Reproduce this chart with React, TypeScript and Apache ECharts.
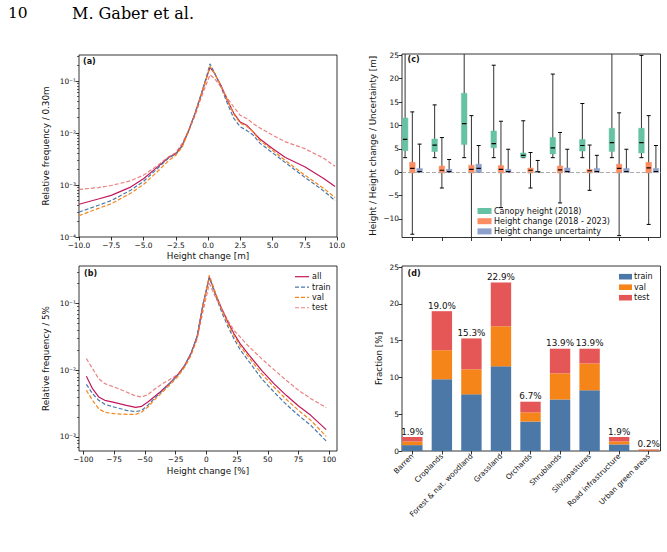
import React, { useEffect, useRef } from "react";
import * as echarts from "echarts";

const FONT = "DejaVu Sans";

// Panel (a): absolute height change [m]; values are log10 of relative frequency per 0.30 m bin
const diffMeters = [-10, -8.5, -7.5, -6, -5, -4, -3, -2.5, -2, -1.5, -1, -0.5, 0, 0.15, 0.5, 1, 1.5, 2, 2.5, 3, 3.5, 4, 5, 6, 7.5, 9, 9.85];
const absAll = [-3.37, -3.27, -3.2, -3.04, -2.88, -2.67, -2.46, -2.4, -2.24, -1.95, -1.62, -1.24, -0.85, -0.74, -0.85, -1.08, -1.37, -1.62, -1.79, -1.85, -1.98, -2.11, -2.3, -2.47, -2.65, -2.88, -3.03];
const absTrain = [-3.52, -3.39, -3.3, -3.1, -2.93, -2.7, -2.47, -2.41, -2.25, -1.96, -1.62, -1.23, -0.82, -0.67, -0.84, -1.11, -1.43, -1.72, -1.88, -1.95, -2.04, -2.19, -2.38, -2.57, -2.85, -3.12, -3.3];
const absVal = [-3.59, -3.45, -3.36, -3.16, -2.99, -2.76, -2.52, -2.43, -2.27, -1.97, -1.64, -1.25, -0.85, -0.72, -0.85, -1.1, -1.37, -1.64, -1.81, -1.87, -1.98, -2.14, -2.33, -2.53, -2.81, -3.07, -3.24];
const absTest = [-3.085, -3.05, -3.01, -2.92, -2.81, -2.64, -2.45, -2.38, -2.2, -1.95, -1.66, -1.3, -0.98, -0.88, -0.95, -1.11, -1.33, -1.5, -1.66, -1.72, -1.82, -1.9, -2.04, -2.17, -2.3, -2.49, -2.64];

// Panel (b): relative height change [%]; values are log10 of relative frequency per 5 % bin
const diffPercent = [-97.5, -92.5, -87.5, -82.5, -75, -65, -57.5, -52.5, -47.5, -42.5, -37.5, -32.5, -27.5, -22.5, -17.5, -12.5, -7.5, -2.5, 2.5, 7.5, 12.5, 17.5, 22.5, 27.5, 35, 45, 55, 65, 75, 85, 97.5];
const relAll = [-2.09, -2.275, -2.4, -2.45, -2.48, -2.525, -2.555, -2.54, -2.475, -2.4, -2.325, -2.24, -2.15, -2.05, -1.925, -1.75, -1.5, -1.0, -0.6, -0.85, -1.075, -1.275, -1.45, -1.6, -1.775, -2.0, -2.2, -2.375, -2.535, -2.675, -2.89];
const relTrain = [-2.21, -2.35, -2.45, -2.51, -2.55, -2.6, -2.62, -2.6, -2.525, -2.425, -2.34, -2.25, -2.16, -2.06, -1.93, -1.75, -1.49, -1.0, -0.61, -0.875, -1.125, -1.34, -1.525, -1.69, -1.875, -2.125, -2.325, -2.51, -2.675, -2.825, -3.06];
const relVal = [-2.3, -2.45, -2.575, -2.63, -2.65, -2.66, -2.66, -2.625, -2.55, -2.45, -2.36, -2.27, -2.18, -2.08, -1.95, -1.78, -1.525, -1.025, -0.575, -0.84, -1.09, -1.3, -1.475, -1.635, -1.815, -2.05, -2.25, -2.435, -2.6, -2.75, -2.99];
const relTest = [-1.825, -1.975, -2.125, -2.2, -2.25, -2.325, -2.385, -2.4, -2.365, -2.29, -2.225, -2.165, -2.115, -2.05, -1.925, -1.76, -1.525, -1.1, -0.7, -0.9, -1.075, -1.25, -1.4, -1.5, -1.65, -1.825, -1.99, -2.15, -2.3, -2.425, -2.56];

// Panels (c) and (d): land cover classes
const landCovers = [
  "Barren",
  "Croplands",
  "Forest & nat. woodland",
  "Grassland",
  "Orchards",
  "Shrublands",
  "Silviopastures",
  "Road infrastructure",
  "Urban green areas",
];

// Box statistics per class: [lower whisker, Q1, median, Q3, upper whisker] in metres
const canopyHeight = [
  [3.1, 4.6, 7.0, 11.6, 31],
  [3.1, 4.4, 5.8, 7.1, 14.4],
  [3.1, 5.9, 10.4, 16.9, 29],
  [3.1, 5.2, 6.1, 8.8, 22.9],
  [3.1, 3.2, 3.6, 4.1, 11.0],
  [3.1, 3.9, 5.2, 7.4, 21.0],
  [3.1, 4.5, 5.7, 7.0, 14.7],
  [3.1, 4.4, 6.3, 9.4, 28],
  [3.1, 4.1, 6.3, 9.4, 25.0],
];
const heightChange = [
  [-13.3, -0.2, 0.8, 2.1, 12.9],
  [-3.4, -0.2, 0.4, 1.3, 7.4],
  [-18, -0.2, 0.6, 1.5, 12.1],
  [-7.6, -0.2, 0.6, 1.4, 10.9],
  [-3.4, -0.2, 0.4, 0.9, 4.2],
  [-6.6, -0.2, 0.5, 1.3, 8.5],
  [-3.9, -0.2, 0.3, 0.6, 5.8],
  [-13.6, -0.2, 0.8, 1.7, 12.7],
  [-11.2, -0.2, 0.9, 2.1, 12.1],
];
const changeUncertainty = [
  [0, -0.1, 0.1, 0.8, 6.0],
  [0, -0.1, 0.1, 0.6, 2.7],
  [0, -0.1, 0.8, 1.7, 5.7],
  [0, -0.1, 0.1, 0.6, 4.9],
  [0, -0.1, 0.05, 0.2, 2.5],
  [0, -0.1, 0.1, 0.9, 4.9],
  [0, -0.1, 0.1, 0.8, 3.6],
  [0, -0.1, 0.1, 0.8, 4.9],
  [0, -0.1, 0.1, 0.8, 5.7],
];

// Share of samples per class and split [%]
const fracTrain = [0.8, 9.75, 7.7, 11.5, 4.0, 7.0, 8.25, 0.9, 0.1];
const fracVal = [0.5, 3.95, 3.4, 5.45, 1.25, 3.55, 3.65, 0.4, 0.05];
const fracTest = [0.6, 5.3, 4.2, 5.95, 1.45, 3.35, 2.0, 0.6, 0.05];

// Tick values
const ticksA_X = [-10, -7.5, -5, -2.5, 0, 2.5, 5, 7.5, 10];
const ticksA_Y = [-4, -3, -2, -1];
const ticksB_X = [-100, -75, -50, -25, 0, 25, 50, 75, 100];
const ticksB_Y = [-3, -2, -1];
const ticksC_Y = [-10, -5, 0, 5, 10, 15, 20, 25];
const ticksD_Y = [0, 5, 10, 15, 20, 25];

const COLORS = {
  all: "#c2185b",
  train: "#4c78a8",
  val: "#f58518",
  test: "#e45756",
  canopy: "#66c2a5",
  change: "#fc8d62",
  uncert: "#8da0cb",
};

const SUP: Record<string, string> = { "-": "\u207b", "0": "\u2070", "1": "\u00b9", "2": "\u00b2", "3": "\u00b3", "4": "\u2074", "5": "\u2075" };
const powerLabel = (v: number) => "10" + String(Math.round(v)).split("").map((c) => SUP[c] || c).join("");
const minus = (s: string) => s.replace("-", "\u2212");

function minorLogTicks(lo: number, hi: number) {
  const out: number[] = [];
  for (let n = -6; n <= 1; n++) {
    for (let k = 2; k <= 9; k++) {
      const v = n + Math.log10(k);
      if (v >= lo && v <= hi) out.push(v);
    }
  }
  return out;
}

const tickLabel = { fontSize: 7.4, fontFamily: FONT, color: "#111", margin: 3 };
const tickStyle = { show: true, length: 3.5, lineStyle: { color: "#000", width: 0.8 } };
const nameStyle = { fontSize: 8.8, fontFamily: FONT, color: "#111" };
const noLine = { show: false, onZero: false };
const noSplit = { show: false };

function lineSeries(name: string, xs: number[], ys: number[], axis: number, color: string, dashed: boolean, opacity = 1) {
  return {
    type: "line",
    name,
    xAxisIndex: axis,
    yAxisIndex: axis === 0 ? 0 : 2,
    data: xs.map((x, i) => [x, ys[i]]),
    symbol: "none",
    smooth: false,
    silent: true,
    lineStyle: { color, width: 1.2, type: dashed ? [4, 2] : "solid", opacity },
    z: 3,
  };
}

const BOX_WIDTH = 0.19;
const BOX_OFFSETS = [-0.245, 0, 0.245];

function boxSeries(name: string, stats: number[][], offset: number, color: string) {
  return {
    type: "custom",
    name,
    xAxisIndex: 2,
    yAxisIndex: 4,
    clip: true,
    silent: true,
    z: 3,
    itemStyle: { color },
    encode: { x: 0, y: [1, 2, 3, 4, 5] },
    data: stats.map((s, i) => [i + offset, ...s]),
    renderItem: (_params: any, api: any) => {
      const x = api.value(0);
      const lo = api.coord([x, api.value(1)]);
      const q1 = api.coord([x, api.value(2)]);
      const md = api.coord([x, api.value(3)]);
      const q3 = api.coord([x, api.value(4)]);
      const hi = api.coord([x, api.value(5)]);
      const half = api.size([BOX_WIDTH, 0])[0] / 2;
      const cx = lo[0];
      const cap = 2;
      return {
        type: "group",
        children: [
          { type: "line", shape: { x1: cx, y1: lo[1], x2: cx, y2: hi[1] }, style: { stroke: "#333", lineWidth: 1 } },
          { type: "line", shape: { x1: cx - cap, y1: lo[1], x2: cx + cap, y2: lo[1] }, style: { stroke: "#000", lineWidth: 1 } },
          { type: "line", shape: { x1: cx - cap, y1: hi[1], x2: cx + cap, y2: hi[1] }, style: { stroke: "#000", lineWidth: 1 } },
          {
            type: "rect",
            shape: { x: cx - half, y: q3[1], width: half * 2, height: Math.max(q1[1] - q3[1], 1) },
            style: { fill: color, stroke: color, lineWidth: 1, strokeOpacity: 0.45 },
          },
          { type: "line", shape: { x1: cx - half + 0.6, y1: md[1], x2: cx + half - 0.6, y2: md[1] }, style: { stroke: "#000", lineWidth: 1.2 } },
        ],
      };
    },
  };
}

const BAR_WIDTH = 0.69;

// One stacked segment per split; each row is [class index, segment base, segment top]
function stackSeries(name: string, vals: number[], bases: number[], color: string, totals: number[] | null) {
  return {
    type: "custom",
    name,
    xAxisIndex: 3,
    yAxisIndex: 5,
    clip: false,
    silent: true,
    z: 3,
    itemStyle: { color },
    encode: { x: 0, y: [1, 2] },
    data: vals.map((v, i) => [i, bases[i], bases[i] + v]),
    renderItem: (params: any, api: any) => {
      const x = api.value(0);
      const b = api.coord([x, api.value(1)]);
      const t = api.coord([x, api.value(2)]);
      const w = api.size([BAR_WIDTH, 0])[0];
      const children: any[] = [
        { type: "rect", shape: { x: b[0] - w / 2, y: t[1], width: w, height: Math.max(b[1] - t[1], 0.8) }, style: { fill: color } },
      ];
      if (totals) {
        children.push({
          type: "text",
          x: t[0],
          y: t[1] - 1,
          style: {
            text: `${totals[params.dataIndex].toFixed(1)}%`,
            align: "center",
            verticalAlign: "bottom",
            fontSize: 8.8,
            fontFamily: FONT,
            fill: "#111",
          },
        });
      }
      return { type: "group", children };
    },
  };
}

function buildOption() {
  const totals = fracTrain.map((v, i) => v + fracVal[i] + fracTest[i]);
  const zeros = fracTrain.map(() => 0);
  const valBase = fracTrain.slice();
  const testBase = fracTrain.map((v, i) => v + fracVal[i]);
  const catIdx = landCovers.map((_, i) => i);

  const aRange = [-4, -0.5];
  const bRange = [-3.21, -0.436];

  const graphic: any[] = [];
  const txt = (x: number, y: number, text: string, extra: any = {}) =>
    graphic.push({
      type: "text",
      x,
      y,
      silent: true,
      style: { text, fontSize: 8, fontFamily: FONT, fill: "#111", verticalAlign: "middle", ...extra },
    });

  // running head
  txt(8, 13, "10", { fontSize: 15.5, fontFamily: "DejaVu Serif", fill: "#000" });
  txt(72, 13, "M. Gaber et al.", { fontSize: 16, fontFamily: "DejaVu Serif", fill: "#000" });

  // panel tags
  txt(83, 61, "(a)", { fontWeight: "bold" });
  txt(84, 273, "(b)", { fontWeight: "bold" });
  txt(407.5, 59.5, "(c)", { fontWeight: "bold" });
  txt(407.5, 273.5, "(d)", { fontWeight: "bold" });

  // legend of (b)
  const bLegend = [
    { name: "all", color: COLORS.all, dashed: false, opacity: 1 },
    { name: "train", color: COLORS.train, dashed: true, opacity: 1 },
    { name: "val", color: COLORS.val, dashed: true, opacity: 1 },
    { name: "test", color: COLORS.test, dashed: true, opacity: 0.75 },
  ];
  bLegend.forEach((it, i) => {
    const y = 276.7 + i * 10.35;
    graphic.push({
      type: "line",
      silent: true,
      shape: { x1: 295, y1: y, x2: 309, y2: y },
      style: { stroke: it.color, lineWidth: 1.2, lineDash: it.dashed ? [4, 2] : null, opacity: it.opacity },
    });
    txt(312, y, it.name);
  });

  // legend of (c)
  const cLegend = [
    { name: "Canopy height (2018)", color: COLORS.canopy },
    { name: "Height change (2018 - 2023)", color: COLORS.change },
    { name: "Height change uncertainty", color: COLORS.uncert },
  ];
  cLegend.forEach((it, i) => {
    const y = 211 + i * 10.2;
    graphic.push({ type: "rect", silent: true, shape: { x: 477.5, y: y - 3, width: 14, height: 6 }, style: { fill: it.color } });
    txt(494, y, it.name);
  });

  // legend of (d)
  const dLegend = [
    { name: "train", color: COLORS.train },
    { name: "val", color: COLORS.val },
    { name: "test", color: COLORS.test },
  ];
  dLegend.forEach((it, i) => {
    const y = 276.7 + i * 10.5;
    graphic.push({ type: "rect", silent: true, shape: { x: 619, y: y - 2.8, width: 13, height: 5.6 }, style: { fill: it.color } });
    txt(634, y, it.name);
  });

  const gridBase = { show: true, borderColor: "#000", borderWidth: 0.8, backgroundColor: "transparent", containLabel: false, outerBoundsMode: "none" };

  const minorAxis = (grid: number, range: number[]) => {
    const values = minorLogTicks(range[0], range[1]);
    return {
      type: "value",
      gridIndex: grid,
      position: "left",
      offset: 0,
      min: range[0],
      max: range[1],
      axisLine: noLine,
      splitLine: noSplit,
      axisLabel: { show: true, customValues: values, formatter: () => "", fontSize: 1 },
      axisTick: { show: true, length: 2, lineStyle: { color: "#000", width: 0.6 }, customValues: values },
    };
  };

  return {
    animation: false,
    backgroundColor: "#fff",
    textStyle: { fontFamily: FONT },
    grid: [
      { ...gridBase, left: 79, top: 55, width: 258, height: 182 },
      { ...gridBase, left: 79, top: 266, width: 258, height: 185 },
      { ...gridBase, left: 402, top: 54, width: 258.5, height: 183.5 },
      { ...gridBase, left: 402, top: 266, width: 258.5, height: 185 },
    ],
    xAxis: [
      {
        type: "value",
        gridIndex: 0,
        position: "bottom",
        min: -10,
        max: 10,
        interval: 2.5,
        axisLine: noLine,
        splitLine: noSplit,
        axisTick: { ...tickStyle, customValues: ticksA_X },
        axisLabel: { ...tickLabel, margin: 4.5, customValues: ticksA_X, formatter: (v: number) => minus(v.toFixed(1)) },
        name: "Height change [m]",
        nameLocation: "middle",
        nameGap: 14,
        nameTextStyle: nameStyle,
      },
      {
        type: "value",
        gridIndex: 1,
        position: "bottom",
        min: -103.5,
        max: 106.3,
        axisLine: noLine,
        splitLine: noSplit,
        axisTick: { ...tickStyle, customValues: ticksB_X },
        axisLabel: { ...tickLabel, margin: 4.5, customValues: ticksB_X, formatter: (v: number) => minus(String(Math.round(v))) },
        name: "Height change [%]",
        nameLocation: "middle",
        nameGap: 15,
        nameTextStyle: nameStyle,
      },
      {
        type: "value",
        gridIndex: 2,
        position: "bottom",
        min: -0.35,
        max: 8.4,
        axisLine: noLine,
        splitLine: noSplit,
        axisTick: { ...tickStyle, customValues: catIdx },
        axisLabel: { show: true, customValues: catIdx, formatter: () => "", fontSize: 1 },
      },
      {
        type: "value",
        gridIndex: 3,
        position: "bottom",
        min: -0.35,
        max: 8.4,
        axisLine: noLine,
        splitLine: noSplit,
        axisTick: { ...tickStyle, customValues: catIdx },
        axisLabel: {
          ...tickLabel,
          customValues: catIdx,
          rotate: 45,
          margin: 4,
          hideOverlap: false,
          formatter: (v: number) => landCovers[Math.round(v)] ?? "",
        },
      },
    ],
    yAxis: [
      {
        type: "value",
        gridIndex: 0,
        position: "left",
        min: aRange[0],
        max: aRange[1],
        axisLine: noLine,
        splitLine: noSplit,
        axisTick: { ...tickStyle, customValues: ticksA_Y },
        axisLabel: { ...tickLabel, customValues: ticksA_Y, formatter: powerLabel },
        name: "Relative frequency / 0.30m",
        nameLocation: "middle",
        nameGap: 29,
        nameTextStyle: nameStyle,
      },
      minorAxis(0, aRange),
      {
        type: "value",
        gridIndex: 1,
        position: "left",
        min: bRange[0],
        max: bRange[1],
        axisLine: noLine,
        splitLine: noSplit,
        axisTick: { ...tickStyle, customValues: ticksB_Y },
        axisLabel: { ...tickLabel, customValues: ticksB_Y, formatter: powerLabel },
        name: "Relative frequency / 5%",
        nameLocation: "middle",
        nameGap: 29,
        nameTextStyle: nameStyle,
      },
      minorAxis(1, bRange),
      {
        type: "value",
        gridIndex: 2,
        position: "left",
        min: -14,
        max: 25.3,
        axisLine: noLine,
        splitLine: noSplit,
        axisTick: { ...tickStyle, customValues: ticksC_Y },
        axisLabel: { ...tickLabel, customValues: ticksC_Y, formatter: (v: number) => minus(String(Math.round(v))) },
        name: "Height / Height change / Uncertainty [m]",
        nameLocation: "middle",
        nameGap: 25,
        nameTextStyle: nameStyle,
      },
      {
        type: "value",
        gridIndex: 3,
        position: "left",
        min: 0,
        max: 25.14,
        axisLine: noLine,
        splitLine: noSplit,
        axisTick: { ...tickStyle, customValues: ticksD_Y },
        axisLabel: { ...tickLabel, customValues: ticksD_Y, formatter: (v: number) => String(Math.round(v)) },
        name: "Fraction [%]",
        nameLocation: "middle",
        nameGap: 19,
        nameTextStyle: nameStyle,
      },
    ],
    series: [
      lineSeries("all", diffMeters, absAll, 0, COLORS.all, false),
      lineSeries("train", diffMeters, absTrain, 0, COLORS.train, true),
      lineSeries("val", diffMeters, absVal, 0, COLORS.val, true),
      lineSeries("test", diffMeters, absTest, 0, COLORS.test, true, 0.75),
      lineSeries("all", diffPercent, relAll, 1, COLORS.all, false),
      lineSeries("train", diffPercent, relTrain, 1, COLORS.train, true),
      lineSeries("val", diffPercent, relVal, 1, COLORS.val, true),
      lineSeries("test", diffPercent, relTest, 1, COLORS.test, true, 0.75),
      {
        type: "line",
        name: "zero",
        xAxisIndex: 2,
        yAxisIndex: 4,
        data: [],
        silent: true,
        z: 1,
        markLine: {
          silent: true,
          symbol: "none",
          label: { show: false },
          lineStyle: { color: "#aaa", type: [4, 2], width: 1 },
          data: [{ yAxis: 0 }],
        },
      },
      boxSeries("Canopy height (2018)", canopyHeight, BOX_OFFSETS[0], COLORS.canopy),
      boxSeries("Height change (2018 - 2023)", heightChange, BOX_OFFSETS[1], COLORS.change),
      boxSeries("Height change uncertainty", changeUncertainty, BOX_OFFSETS[2], COLORS.uncert),
      stackSeries("train", fracTrain, zeros, COLORS.train, null),
      stackSeries("val", fracVal, valBase, COLORS.val, null),
      stackSeries("test", fracTest, testBase, COLORS.test, totals),
    ],
    graphic,
  };
}

export default function App() {
  const ref = useRef<HTMLDivElement>(null);
  useEffect(() => {
    if (!ref.current) return;
    const chart = echarts.init(ref.current, null, { renderer: "svg" });
    chart.setOption(buildOption() as any);
    return () => chart.dispose();
  }, []);
  return (
    <div
      ref={ref}
      style={{ position: "absolute", left: 0, top: 0, width: 667, height: 552, background: "#fff" }}
    />
  );
}
